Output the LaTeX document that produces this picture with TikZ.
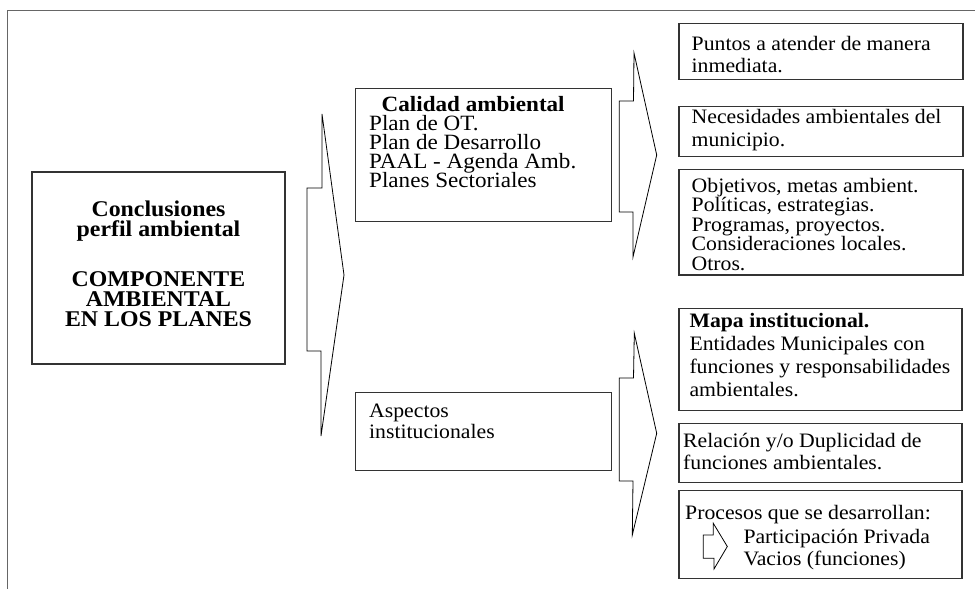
\documentclass[tikz,border=0pt]{standalone}
\usepackage{fontspec}
\setmainfont{Liberation Serif}[FakeStretch=1.06]
\definecolor{boxgray}{HTML}{333333}
\definecolor{framegray}{HTML}{666666}
\begin{document}
\begin{tikzpicture}[x=1pt,y=-1pt,
  frame/.style={draw=framegray,line width=1.3pt},
  box/.style={draw=boxgray,line width=1.2pt,inner sep=0pt},
  blockarrow/.style={draw=black,line width=0.8pt,line join=miter},
  txt/.style={anchor=base west,inner sep=0pt,text height=13pt,text depth=4pt,
    font=\fontsize{20.5}{18}\selectfont},
  bigtxt/.style={txt,font=\fontsize{21.8}{18}\selectfont},
  boldtxt/.style={txt,font=\fontsize{20.5}{18}\selectfont\bfseries},
  bold/.style={anchor=base,inner sep=0pt,text height=14pt,text depth=4pt,
    font=\fontsize{22.5}{20}\selectfont\bfseries}]
\useasboundingbox (0,0) rectangle (975,589);

% open outer frame
\draw[frame] (7.5,589) -- (7.5,10.5) -- (975,10.5);

% boxes
\node[box,minimum width=253pt,minimum height=192pt] (main) at (158.5,268) {};
\node[box,minimum width=256.5pt,minimum height=133.5pt] (cal) at (483.4,155) {};
\node[box,minimum width=256.5pt,minimum height=78.5pt] (asp) at (483.4,431.5) {};
\node[box,minimum width=284pt,minimum height=56pt] (r1) at (821,51.3) {};
\node[box,minimum width=284pt,minimum height=49.5pt] (r2) at (821,131.4) {};
\node[box,minimum width=284pt,minimum height=105.7pt] (r3) at (821,222.2) {};
\node[box,minimum width=283pt,minimum height=102.4pt] (r4) at (820.5,359.5) {};
\node[box,minimum width=283pt,minimum height=59pt] (r5) at (820.5,452.8) {};
\node[box,minimum width=283pt,minimum height=87.6pt] (r6) at (820.5,534.5) {};

% block arrows
\draw[blockarrow] (307,188) -- (322,188) -- (322,114) -- (344,275)
  -- (321,436) -- (321,351) -- (307,351) -- cycle;
\draw[blockarrow] (619.3,101) -- (633.5,101) -- (634,53) -- (656.7,155)
  -- (633,257) -- (633,212) -- (619.3,212) -- cycle;
\draw[blockarrow] (619.3,378) -- (633.5,378) -- (634.3,333.3) -- (656.7,433.3)
  -- (632.3,535) -- (633,481) -- (619.3,481) -- cycle;
\draw[blockarrow] (703.3,535) -- (713.3,535) -- (713.3,523.3) -- (727.3,546.5)
  -- (714,569) -- (714,558.3) -- (703.3,558.3) -- cycle;

% main box text
\node[bold] (m1) at (158.5,216) {Conclusiones};
\node[bold] (m2) at (158.5,236) {perfil ambiental};
\node[bold] (m3) at (158.5,286) {COMPONENTE};
\node[bold] (m4) at (158.5,306) {AMBIENTAL};
\node[bold] (m5) at (158.5,326) {EN LOS PLANES};

% Calidad ambiental
\node[bigtxt,font=\fontsize{21.8}{18}\selectfont\bfseries] (c0) at (381.5,111) {Calidad ambiental};
\foreach \t [count=\i] in {Plan de OT., Plan de Desarrollo, PAAL - Agenda Amb., Planes Sectoriales}
  \node[bigtxt] (c\i) at ({369},{111+19*\i}) {\t};

% Aspectos institucionales
\node[txt] (a1) at (369,417) {Aspectos};
\node[txt] (a2) at (369,438) {institucionales};

% right column, upper group
\node[txt] (p1) at (691.5,50) {Puntos a atender de manera};
\node[txt] (p2) at (691.5,72) {inmediata.};
\node[txt] (n1) at (691.5,123.5) {Necesidades ambientales del};
\node[txt] (n2) at (691.5,146) {municipio.};
\foreach \t [count=\i] in {{Objetivos, metas ambient.}, {Políticas, estrategias.},
    {Programas, proyectos.}, {Consideraciones locales.}, {Otros.}}
  \node[txt] (o\i) at ({691.5},{192+19.5*(\i-1)}) {\t};

% right column, lower group
\node[boldtxt] (e0) at (689.3,327) {Mapa institucional.};
\node[txt] (e1) at (689.3,350) {Entidades Municipales con};
\node[txt] (e2) at (689.3,373) {funciones y responsabilidades};
\node[txt] (e3) at (689.3,396) {ambientales.};
\node[txt] (d1) at (683,447) {Relación y/o Duplicidad de};
\node[txt] (d2) at (683,469) {funciones ambientales.};
\node[txt] (s0) at (685,519) {Procesos que se desarrollan:};
\node[txt] (s1) at (743.3,543) {Participación Privada};
\node[txt] (s2) at (743.3,565) {Vacios (funciones)};
\end{tikzpicture}
\end{document}
